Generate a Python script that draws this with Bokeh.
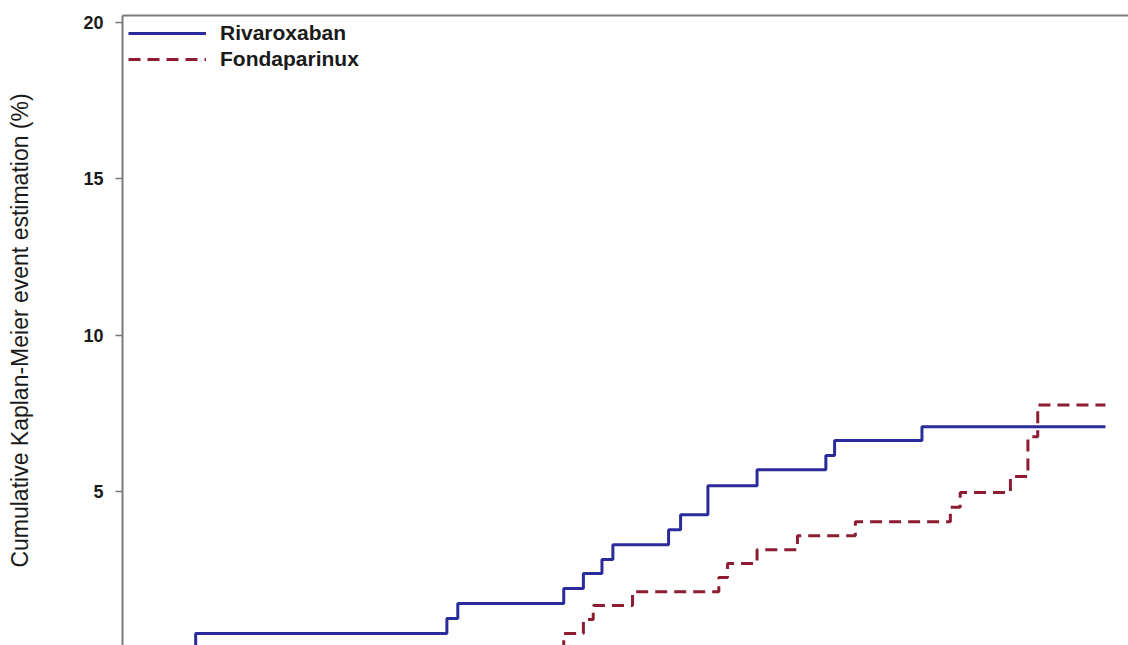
from bokeh.plotting import figure
from bokeh.models import Range1d, LinearAxis, FixedTicker, Legend, LegendItem
from bokeh.embed import file_html
from bokeh.resources import INLINE

# ---- data (time in days, cumulative event estimate in %) ----
t_end = 90.0
riv_t = [6.7, 29.7, 30.7, 40.4, 42.2, 43.9, 44.9, 50.0, 51.1, 53.6, 58.1, 64.4, 65.2, 73.2]
riv_y = [0.46, 0.94, 1.42, 1.90, 2.38, 2.83, 3.30, 3.78, 4.26, 5.19, 5.70, 6.15, 6.63, 7.07]
fon_t = [40.4, 42.2, 43.1, 46.7, 54.6, 55.4, 58.1, 61.8, 67.1, 75.8, 76.7, 81.3, 82.9, 83.8]
fon_y = [0.46, 0.91, 1.36, 1.80, 2.25, 2.70, 3.14, 3.59, 4.04, 4.50, 4.97, 5.48, 6.75, 7.77]
y_ticks = [0, 5, 10, 15, 20]
series_names = ["Rivaroxaban", "Fondaparinux"]
y_title = "Cumulative Kaplan-Meier event estimation (%)"

def km(ts, ys):
    xs = [0.0] + list(ts) + [t_end]
    yy = [0.0] + list(ys) + [ys[-1]]
    return xs, yy

p = figure(width=1128, height=645, output_backend="svg", toolbar_location=None,
           x_axis_location=None, x_range=Range1d(0, 92.11), y_range=Range1d(0.08, 20.22),
           min_border_left=122, min_border_right=0, min_border_top=15, min_border_bottom=0)
p.outline_line_color = None
p.xgrid.visible = False
p.ygrid.visible = False
p.background_fill_color = "white"

ax = p.yaxis[0]
ax.ticker = FixedTicker(ticks=y_ticks)
ax.axis_line_color = "#7a7a7a"
ax.axis_line_width = 2
ax.major_tick_line_color = "#7a7a7a"
ax.major_tick_line_width = 1.5
ax.major_tick_out = 7
ax.major_tick_in = 0
ax.minor_tick_line_color = None
ax.major_label_text_font = "Liberation Sans"
ax.major_label_text_font_style = "bold"
ax.major_label_text_font_size = "18px"
ax.major_label_text_color = "#1a1a1a"
ax.major_label_standoff = 12
ax.axis_label = y_title
ax.axis_label_text_font = "Liberation Sans"
ax.axis_label_text_font_style = "normal"
ax.axis_label_text_font_size = "23px"
ax.axis_label_text_color = "#1a1a1a"
ax.axis_label_standoff = 47

top = LinearAxis(ticker=FixedTicker(ticks=[]), major_label_text_font_size="0px",
                 major_tick_out=0, major_tick_in=0, minor_tick_out=0, minor_tick_in=0,
                 major_label_standoff=0, axis_line_color="#7a7a7a", axis_line_width=2)
p.add_layout(top, "above")

xr, yr = km(riv_t, riv_y)
xf, yf = km(fon_t, fon_y)
r1 = p.step(xr, yr, mode="after", line_color="#2B2B9C", line_width=3)
r2 = p.step(xf, yf, mode="after", line_color="#8C1D32", line_width=3, line_dash="12 7")

leg = Legend(items=[LegendItem(label=series_names[0], renderers=[r1]),
                    LegendItem(label=series_names[1], renderers=[r2])],
             location="top_left", margin=6, padding=5, spacing=2,
             glyph_width=78, glyph_height=10, label_height=10, label_standoff=14,
             label_text_font="Liberation Sans", label_text_font_style="bold",
             label_text_font_size="21px", label_text_color="#1a1a1a",
             border_line_color=None, background_fill_alpha=0)
p.add_layout(leg, "center")

open("out.html", "w").write(file_html(p, INLINE))
